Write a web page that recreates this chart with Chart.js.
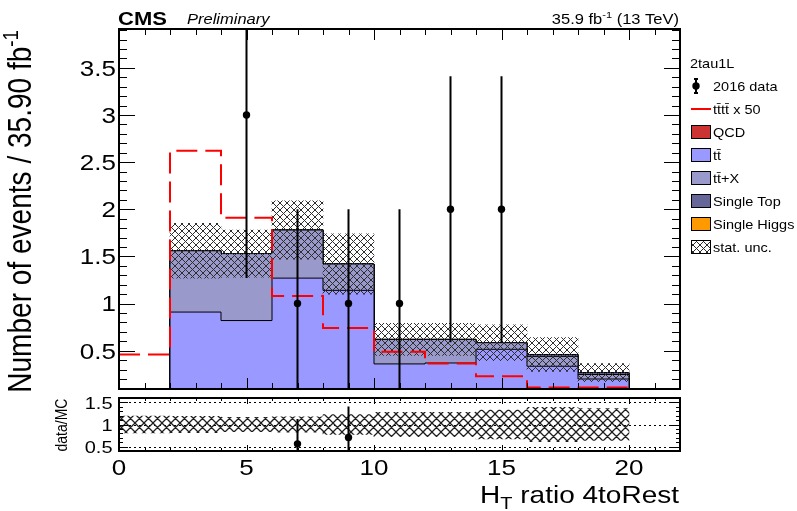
<!DOCTYPE html>
<html>
<head>
<meta charset="utf-8">
<script src="https://cdn.jsdelivr.net/npm/chart.js"></script>
<style>
html,body{margin:0;padding:0;background:#ffffff;}
#wrap{position:relative;width:797px;height:511px;overflow:hidden;background:#fff;}
#wrap canvas{position:absolute;left:0;top:0;}
</style>
</head>
<body>
<div id="wrap">
<canvas id="mainCanvas" width="797" height="511"></canvas>
<canvas id="ratioCanvas" width="797" height="511"></canvas>
</div>
<script>
// ---------------- data ----------------
const binLowEdges = [2, 4, 6, 8, 10, 12, 14, 16, 18];
const binUpEdge = 20;
const binCenters = [3, 5, 7, 9, 11, 13, 15, 17, 19];
const ttbar       = [0.91, 0.82, 1.27, 1.14, 0.36, 0.37, 0.515, 0.335, 0.20];
const ttbarX      = [0.65, 0.71, 0.51, 0.28, 0.26, 0.25, 0.07, 0.105, 0.048];
const singleTop   = [0, 0, 0, 0, 0, 0, 0, 0.02, 0.02];
const singleHiggs = [0, 0, 0, 0, 0, 0, 0, 0, 0];
const qcd         = [0, 0, 0, 0, 0, 0, 0, 0, 0];
const statUnc     = [0.29, 0.25, 0.31, 0.32, 0.17, 0.17, 0.19, 0.18, 0.096];
const dataCounts  = [0, 3, 1, 1, 1, 2, 2, 0, 0];
const dataErrors  = [0, 1.73, 1, 1, 1, 1.41, 1.41, 0, 0];
const signalLowEdges = [0, 2, 4, 6, 8, 10, 12, 14, 16, 18];
const signalX50      = [0.46, 2.62, 1.91, 1.08, 0.74, 0.49, 0.365, 0.23, 0.11, 0.11];
const ratioFirstBinCenter = 1;
const ratioFirstBinRelUnc = 0.19;

const xTickValues = [0, 5, 10, 15, 20];
const xTickLabels = ['0', '5', '10', '15', '20'];
const yTickValues = [0.5, 1, 1.5, 2, 2.5, 3, 3.5];
const yTickLabels = ['0.5', '1', '1.5', '2', '2.5', '3', '3.5'];
const ratioTickValues = [0.5, 1, 1.5];
const ratioTickLabels = ['0.5', '1', '1.5'];

const channelName = '2tau1L';
const nameData = '2016 data';
const nameSignal = 't\u0074\u0304t\u0074\u0304 x 50';
const nameQCD = 'QCD';
const nameTT = 't\u0074\u0304';
const nameTTX = 't\u0074\u0304+X';
const nameST = 'Single Top';
const nameSH = 'Single Higgs';
const nameUnc = 'stat. unc.';
const xTitleMain = 'H';
const xTitleSub = 'T';
const xTitleRest = ' ratio 4toRest';
const yTitleText = 'Number of events / 35.90 fb';
const yTitleSup = '-1';
const ratioTitle = 'data/MC';

// ---------------- styles ----------------
const colTT = '#9999ff', colTTX = '#9999cc', colST = '#666699', colSH = '#ff9900', colQCD = '#cc3333';
const FONT = "'Liberation Sans', Arial, Helvetica, sans-serif";
const SQ = 0.85;

function fontStr(s) { return (s.style || '') + ' ' + (s.weight || 'normal') + ' ' + s.size + 'px ' + FONT; }
function segWidth(ctx, s) { ctx.font = fontStr(s); return ctx.measureText(s.t).width; }
function drawText(ctx, segs, x, y, align, rotate, color) {
  ctx.save();
  ctx.translate(x, y);
  if (rotate) { ctx.rotate(rotate); ctx.scale(SQ, 1); } else { ctx.scale(1, SQ); }
  ctx.fillStyle = color || '#000';
  ctx.textAlign = 'left';
  ctx.textBaseline = 'alphabetic';
  let W = 0;
  segs.forEach(s => { W += segWidth(ctx, s); });
  let cx = align === 'right' ? -W : (align === 'center' ? -W / 2 : 0);
  segs.forEach(s => {
    ctx.font = fontStr(s);
    ctx.fillText(s.t, cx, -(s.dy || 0));
    cx += ctx.measureText(s.t).width;
  });
  ctx.restore();
}

function makeHatch(targetCtx, s, color, lw) {
  const t = document.createElement('canvas');
  t.width = s; t.height = s;
  const g = t.getContext('2d');
  g.strokeStyle = color; g.lineWidth = lw;
  g.beginPath();
  for (let k = -1; k <= 1; k++) {
    g.moveTo(k * s, 0); g.lineTo(k * s + s, s);
    g.moveTo(k * s + s, 0); g.lineTo(k * s, s);
  }
  g.stroke();
  return targetCtx.createPattern(t, 'repeat');
}

function stepPoints(lows, up, vals, closed) {
  const p = [];
  if (closed) p.push({ x: lows[0], y: 0 });
  vals.forEach((v, i) => p.push({ x: lows[i], y: v }));
  p.push({ x: up, y: vals[vals.length - 1] });
  if (closed) p.push({ x: up, y: 0 });
  return p;
}

// ---------------- plugins ----------------
const errBarsPlugin = {
  id: 'errBars',
  beforeDatasetDraw(chart, args) {
    const ds = chart.data.datasets[args.index];
    if (!ds.errorBars) return;
    const { ctx, chartArea: a } = chart;
    const ys = chart.scales.y;
    ctx.save();
    ctx.beginPath();
    ctx.rect(a.left, a.top, a.right - a.left, a.bottom - a.top);
    ctx.clip();
    ctx.strokeStyle = '#000';
    ctx.lineWidth = 2;
    ctx.beginPath();
    args.meta.data.forEach((pt, j) => {
      const d = ds.data[j], e = ds.errorBars[j];
      ctx.moveTo(pt.x, ys.getPixelForValue(d.y + e));
      ctx.lineTo(pt.x, ys.getPixelForValue(d.y - e));
    });
    ctx.stroke();
    ctx.restore();
  }
};

const rootAxesPlugin = {
  id: 'rootAxes',
  beforeDatasetsDraw(chart, args, o) {
    if (!o.dotted) return;
    const { ctx, chartArea: a } = chart;
    const ys = chart.scales.y;
    ctx.save();
    ctx.strokeStyle = '#000';
    ctx.lineWidth = 1;
    ctx.setLineDash([2, 3]);
    ctx.beginPath();
    o.dotted.forEach(v => {
      const py = Math.round(ys.getPixelForValue(v)) + 0.5;
      ctx.moveTo(a.left, py); ctx.lineTo(a.right, py);
    });
    ctx.stroke();
    ctx.restore();
  },
  afterDatasetsDraw(chart, args, o) {
    const { ctx, chartArea: a } = chart;
    const xs = chart.scales.x, ys = chart.scales.y;
    ctx.save();
    ctx.strokeStyle = '#000';
    ctx.lineWidth = 1;
    ctx.beginPath();
    const k0 = Math.ceil(xs.min / o.xMinor - 1e-9), k1 = Math.floor(xs.max / o.xMinor + 1e-9);
    for (let k = k0; k <= k1; k++) {
      const v = k * o.xMinor;
      const major = Math.abs(v / o.xMajor - Math.round(v / o.xMajor)) < 1e-6;
      const L = major ? o.xMajLen : o.xMinLen;
      const px = Math.round(xs.getPixelForValue(v)) + 0.5;
      ctx.moveTo(px, a.bottom); ctx.lineTo(px, a.bottom - L);
      ctx.moveTo(px, a.top); ctx.lineTo(px, a.top + L);
    }
    const j0 = Math.ceil(ys.min / o.yMinor - 1e-9), j1 = Math.floor(ys.max / o.yMinor + 1e-9);
    for (let k = j0; k <= j1; k++) {
      const v = k * o.yMinor;
      const major = Math.abs(v / o.yMajor - Math.round(v / o.yMajor)) < 1e-6;
      const L = major ? o.yMajLen : o.yMinLen;
      const py = Math.round(ys.getPixelForValue(v)) + 0.5;
      ctx.moveTo(a.left, py); ctx.lineTo(a.left + L, py);
      ctx.moveTo(a.right, py); ctx.lineTo(a.right - L, py);
    }
    ctx.stroke();
    ctx.lineWidth = o.frame;
    ctx.strokeRect(a.left, a.top, a.right - a.left, a.bottom - a.top);
    ctx.restore();
  }
};

// ---------------- main panel ----------------
const mainCtx = document.getElementById('mainCanvas').getContext('2d');
const hatchMain = makeHatch(mainCtx, 7, '#2e2e2e', 1);

const stackDefs = [
  { name: nameTT, vals: ttbar, color: colTT },
  { name: nameTTX, vals: ttbarX, color: colTTX },
  { name: nameST, vals: singleTop, color: colST },
  { name: nameSH, vals: singleHiggs, color: colSH },
  { name: nameQCD, vals: qcd, color: colQCD }
];
let running = binCenters.map(() => 0);
const stackDatasets = stackDefs.map((d, k) => {
  running = running.map((v, i) => v + d.vals[i]);
  return {
    type: 'line', label: d.name, data: stepPoints(binLowEdges, binUpEdge, running, true),
    stepped: true, borderColor: '#000', borderWidth: 1, backgroundColor: d.color,
    fill: 'origin', pointRadius: 0, order: 3 + k
  };
});
const totalMC = running.slice();

const dataIdx = binCenters.map((c, i) => i).filter(i => dataCounts[i] > 0);
const dataDS = {
  type: 'line', label: nameData,
  data: dataIdx.map(i => ({ x: binCenters[i], y: dataCounts[i] })),
  errorBars: dataIdx.map(i => dataErrors[i]),
  showLine: false, pointRadius: 3.7, pointBackgroundColor: '#000', pointBorderColor: '#000',
  pointBorderWidth: 0, order: 0
};
const signalDS = {
  type: 'line', label: nameSignal, data: stepPoints(signalLowEdges, binUpEdge, signalX50, false),
  stepped: true, borderColor: '#ff0000', borderWidth: 2, borderDash: [21, 8], fill: false,
  pointRadius: 0, order: 1
};
const uncDS = {
  type: 'bar', label: nameUnc,
  data: binCenters.map((c, i) => ({ x: c, y: [totalMC[i] - statUnc[i], totalMC[i] + statUnc[i]] })),
  backgroundColor: hatchMain, borderWidth: 0, barPercentage: 1, categoryPercentage: 1, order: 2
};

const legendItems = [
  { name: nameData, kind: 'data' },
  { name: nameSignal, kind: 'line', color: '#ff0000' },
  { name: nameQCD, kind: 'box', color: colQCD },
  { name: nameTT, kind: 'box', color: colTT },
  { name: nameTTX, kind: 'box', color: colTTX },
  { name: nameST, kind: 'box', color: colST },
  { name: nameSH, kind: 'box', color: colSH },
  { name: nameUnc, kind: 'hatch' }
];

const mainTextPlugin = {
  id: 'mainText',
  afterDraw(chart) {
    const ctx = chart.ctx;
    const ys = chart.scales.y;
    yTickValues.forEach((v, i) => {
      drawText(ctx, [{ t: yTickLabels[i], size: 26 }], 116, ys.getPixelForValue(v) + 7.9, 'right');
    });
    drawText(ctx, [{ t: 'CMS', size: 22, weight: 'bold' }], 118, 25, 'left');
    drawText(ctx, [{ t: 'Preliminary', size: 16.5, style: 'italic' }], 187, 23.5, 'left');
    drawText(ctx, [{ t: '35.9 fb', size: 16.5 }, { t: '-1', size: 11, dy: 7 }, { t: ' (13 TeV)', size: 16.5 }], 679, 23.5, 'right');
    drawText(ctx, [{ t: yTitleText, size: 33 }, { t: yTitleSup, size: 22, dy: 13 }], 31, 30, 'right', -Math.PI / 2);
    // legend
    const rows = [86, 109, 132, 155, 178, 201, 224, 247];
    drawText(ctx, [{ t: channelName, size: 14.5 }], 690, 68, 'left');
    legendItems.forEach((it, k) => {
      const cy = rows[k];
      ctx.save();
      if (it.kind === 'data') {
        ctx.strokeStyle = '#000'; ctx.lineWidth = 2;
        ctx.beginPath();
        ctx.moveTo(696, cy - 7); ctx.lineTo(696, cy + 7);
        ctx.moveTo(694, cy - 7); ctx.lineTo(698, cy - 7);
        ctx.moveTo(694, cy + 7); ctx.lineTo(698, cy + 7);
        ctx.stroke();
        ctx.fillStyle = '#000';
        ctx.beginPath(); ctx.arc(696, cy, 3.7, 0, Math.PI * 2); ctx.fill();
      } else if (it.kind === 'line') {
        ctx.strokeStyle = it.color; ctx.lineWidth = 2;
        ctx.beginPath(); ctx.moveTo(691, cy); ctx.lineTo(711, cy); ctx.stroke();
      } else {
        ctx.fillStyle = it.kind === 'hatch' ? hatchMain : it.color;
        ctx.fillRect(691, cy - 7, 20, 14);
        ctx.strokeStyle = '#000'; ctx.lineWidth = 1;
        ctx.strokeRect(691.5, cy - 6.5, 19, 13);
      }
      ctx.restore();
      drawText(ctx, [{ t: it.name, size: 14.5 }], 713, cy + 4.5, 'left');
    });
  }
};

new Chart(mainCtx, {
  type: 'line',
  data: { datasets: [dataDS, signalDS, uncDS].concat(stackDatasets) },
  options: {
    responsive: false, maintainAspectRatio: false, animation: false, events: [], devicePixelRatio: 1,
    layout: { padding: { left: 119, right: 117, top: 29, bottom: 122 } },
    plugins: {
      legend: { display: false }, tooltip: { enabled: false },
      rootAxes: { xMinor: 1, xMajor: 5, xMajLen: 11, xMinLen: 6, yMinor: 0.1, yMajor: 0.5, yMajLen: 16, yMinLen: 8, frame: 2 }
    },
    scales: {
      x: { type: 'linear', min: 0, max: 22, display: false, offset: false,
           afterBuildTicks: s => { s.ticks = xTickValues.map(v => ({ value: v })); } },
      y: { type: 'linear', min: 0.094, max: 3.912, display: false }
    }
  },
  plugins: [errBarsPlugin, rootAxesPlugin, mainTextPlugin]
});

// ---------------- ratio panel ----------------
const ratioCtx = document.getElementById('ratioCanvas').getContext('2d');
const hatchRatio = makeHatch(ratioCtx, 9, '#1e1e1e', 1.25);
const ratioMin = 0.4, ratioMax = 1.6;
const ratioIdx = dataIdx.filter(i => {
  const r = dataCounts[i] / totalMC[i];
  return r > ratioMin && r < ratioMax;
});
const ratioPtsDS = {
  type: 'line', label: nameData,
  data: ratioIdx.map(i => ({ x: binCenters[i], y: dataCounts[i] / totalMC[i] })),
  errorBars: ratioIdx.map(i => dataErrors[i] / totalMC[i]),
  showLine: false, pointRadius: 3.7, pointBackgroundColor: '#000', pointBorderColor: '#000',
  pointBorderWidth: 0, order: 0
};
const ratioBandDS = {
  type: 'bar', label: nameUnc,
  data: [{ x: ratioFirstBinCenter, y: [1 - ratioFirstBinRelUnc, 1 + ratioFirstBinRelUnc] }].concat(
    binCenters.map((c, i) => ({ x: c, y: [1 - statUnc[i] / totalMC[i], 1 + statUnc[i] / totalMC[i]] }))),
  backgroundColor: hatchRatio, borderWidth: 0, barPercentage: 1, categoryPercentage: 1, order: 1
};

const ratioTextPlugin = {
  id: 'ratioText',
  afterDraw(chart) {
    const ctx = chart.ctx;
    const xs = chart.scales.x, ys = chart.scales.y;
    xTickValues.forEach((v, i) => {
      drawText(ctx, [{ t: xTickLabels[i], size: 26 }], xs.getPixelForValue(v), 475, 'center');
    });
    ratioTickValues.forEach((v, i) => {
      drawText(ctx, [{ t: ratioTickLabels[i], size: 20 }], 112.5, ys.getPixelForValue(v) + 6.1, 'right');
    });
    drawText(ctx, [{ t: ratioTitle, size: 16.5 }], 66.5, 425, 'center', -Math.PI / 2);
    drawText(ctx, [{ t: xTitleMain, size: 28 }, { t: xTitleSub, size: 20, dy: -7 }, { t: xTitleRest, size: 28 }], 679, 503, 'right');
  }
};

new Chart(ratioCtx, {
  type: 'line',
  data: { datasets: [ratioPtsDS, ratioBandDS] },
  options: {
    responsive: false, maintainAspectRatio: false, animation: false, events: [], devicePixelRatio: 1,
    layout: { padding: { left: 119, right: 117, top: 398, bottom: 60 } },
    plugins: {
      legend: { display: false }, tooltip: { enabled: false },
      rootAxes: { xMinor: 1, xMajor: 5, xMajLen: 6, xMinLen: 3, yMinor: 0.1, yMajor: 0.5, yMajLen: 9, yMinLen: 4, frame: 2, dotted: ratioTickValues }
    },
    scales: {
      x: { type: 'linear', min: 0, max: 22, display: false, offset: false,
           afterBuildTicks: s => { s.ticks = xTickValues.map(v => ({ value: v })); } },
      y: { type: 'linear', min: ratioMin, max: ratioMax, display: false }
    }
  },
  plugins: [errBarsPlugin, rootAxesPlugin, ratioTextPlugin]
});
</script>
</body>
</html>
